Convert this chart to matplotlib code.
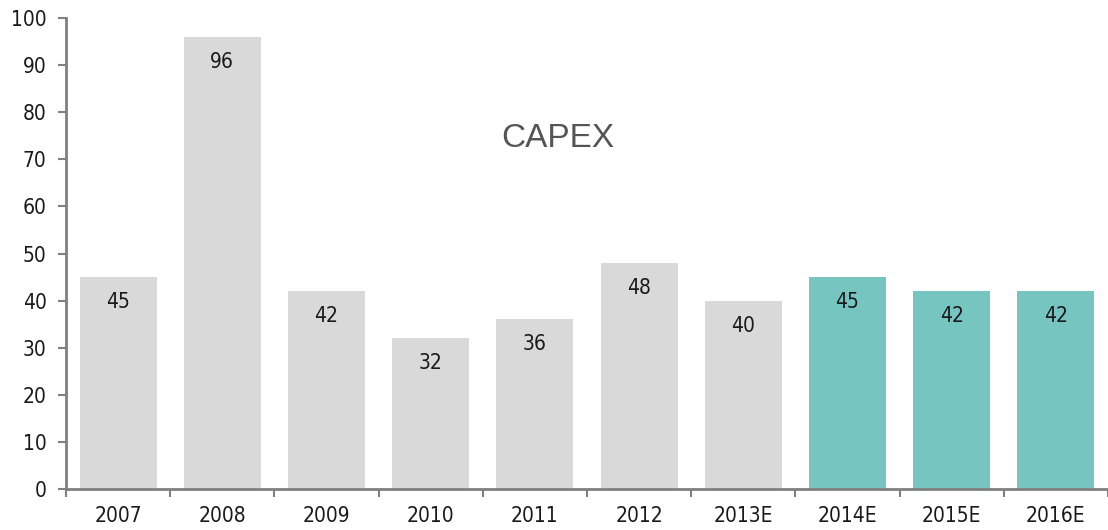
#!/usr/bin/env python3
"""CAPEX bar chart, 2007-2016E."""

import matplotlib

matplotlib.use("Agg")
import matplotlib.pyplot as plt
from matplotlib import font_manager
import numpy as np


YEARS = ["2007", "2008", "2009", "2010", "2011", "2012", "2013E", "2014E", "2015E", "2016E"]
CAPEX = [45, 96, 42, 32, 36, 48, 40, 45, 42, 42]
IS_ESTIMATE = [False, False, False, False, False, False, False, True, True, True]

GREY = "#d9d9d9"
TEAL = "#76c5c1"
AXIS = "#808080"


def narrow_font(size: float) -> font_manager.FontProperties:
    return font_manager.FontProperties(family="DejaVu Sans", stretch="condensed", size=size)


def main() -> None:
    fig = plt.figure(figsize=(11.08, 5.30), dpi=100)
    ax = fig.add_axes([66 / 1108, 41 / 530, (1108 - 66) / 1108, 471 / 530])

    x = np.arange(len(YEARS), dtype=float)
    colors = [TEAL if est else GREY for est in IS_ESTIMATE]
    ax.bar(x, CAPEX, width=0.74, color=colors, zorder=2)

    for xi, val in zip(x, CAPEX):
        ax.annotate(str(val), (xi, val), xytext=(0, -18), textcoords="offset points",
                    ha="center", va="center", fontproperties=narrow_font(15), color="#1a1a1a")

    ax.text(4.22, 74.5, "CAPEX", ha="center", va="center", fontsize=24,
            family=["Liberation Sans", "DejaVu Sans"], color="#555555")

    ax.set_xlim(-0.5, 9.39)
    ax.set_ylim(0, 100)
    ax.set_yticks(np.arange(0, 101, 10))
    ax.set_xticks(x)
    ax.set_xticklabels(YEARS)
    ax.set_xticks(np.arange(-0.5, 9.6, 1.0), minor=True)
    ax.tick_params(axis="x", which="major", length=0, pad=12)
    ax.tick_params(axis="x", which="minor", length=6, width=1.5, color=AXIS)
    ax.tick_params(axis="y", length=6, width=1.5, color=AXIS, pad=8)
    for lab in ax.get_xticklabels() + ax.get_yticklabels():
        lab.set_fontproperties(narrow_font(15))
        lab.set_color("#1a1a1a")

    for side in ("top", "right"):
        ax.spines[side].set_visible(False)
    for side in ("left", "bottom"):
        ax.spines[side].set_color(AXIS)
        ax.spines[side].set_linewidth(2)

    fig.savefig("out.png", dpi=100)
    plt.close(fig)


if __name__ == "__main__":
    main()
